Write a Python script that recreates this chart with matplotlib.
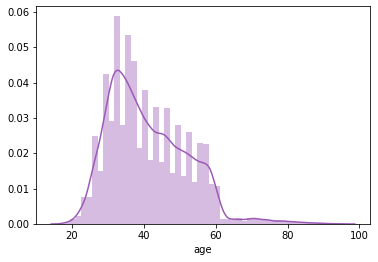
import numpy as np
import matplotlib
matplotlib.use("Agg")
import matplotlib.pyplot as plt

# histogram of age: 50 bins from 18 to 95, density heights
age_min, age_max, n_bins = 18, 95, 50
heights = [0.0005, 0.0015, 0.0022, 0.0075, 0.0075, 0.0249, 0.0150, 0.0425, 0.0290, 0.0587,
           0.0280, 0.0535, 0.0460, 0.0216, 0.0380, 0.0180, 0.0330, 0.0176, 0.0327, 0.0143,
           0.0280, 0.0137, 0.0260, 0.0120, 0.0230, 0.0226, 0.0114, 0.0108, 0.0014, 0.0015,
           0.0011, 0.0016, 0.0008, 0.0018, 0.0015, 0.0013, 0.0012, 0.0011, 0.0010, 0.0008,
           0.0007, 0.0006, 0.0005, 0.0004, 0.0003, 0.0003, 0.0002, 0.0001, 0.0001, 0.0001]
bandwidth = 1.24

color = "#9b59b6"

edges = np.linspace(age_min, age_max, n_bins + 1)

# ages are whole years: spread each bin's mass over the integer ages inside it
ages = np.arange(age_min, age_max + 1)
age_w = np.zeros(len(ages))
for i, h in enumerate(heights):
    lo, hi = edges[i], edges[i + 1]
    inside = (ages >= lo) & ((ages < hi) | (i == n_bins - 1))
    age_w[inside] += h * (hi - lo) / inside.sum()
age_w = age_w / age_w.sum()

# gaussian kde, cut = 3 bandwidths like seaborn
grid = np.linspace(age_min - 3 * bandwidth, age_max + 3 * bandwidth, 300)
kde = (age_w[None, :] * np.exp(-0.5 * ((grid[:, None] - ages[None, :]) / bandwidth) ** 2)).sum(axis=1)
kde = kde / (bandwidth * np.sqrt(2 * np.pi))

fig = plt.figure(figsize=(378 / 72, 262 / 72), dpi=72)
ax = fig.add_axes([36 / 378, 1 - 224 / 262, 334 / 378, 218 / 262])

ax.bar(edges[:-1], heights, width=np.diff(edges), align="edge", color=color, alpha=0.4, linewidth=0)
ax.plot(grid, kde, color=color, lw=1.5)

ax.set_xticks([20, 40, 60, 80, 100])
ax.set_yticks([0, 0.01, 0.02, 0.03, 0.04, 0.05, 0.06])
ax.set_yticklabels(["%.2f" % v for v in [0, 0.01, 0.02, 0.03, 0.04, 0.05, 0.06]])
ax.set_xlabel("age")

fig.savefig("out.png", dpi=72)
